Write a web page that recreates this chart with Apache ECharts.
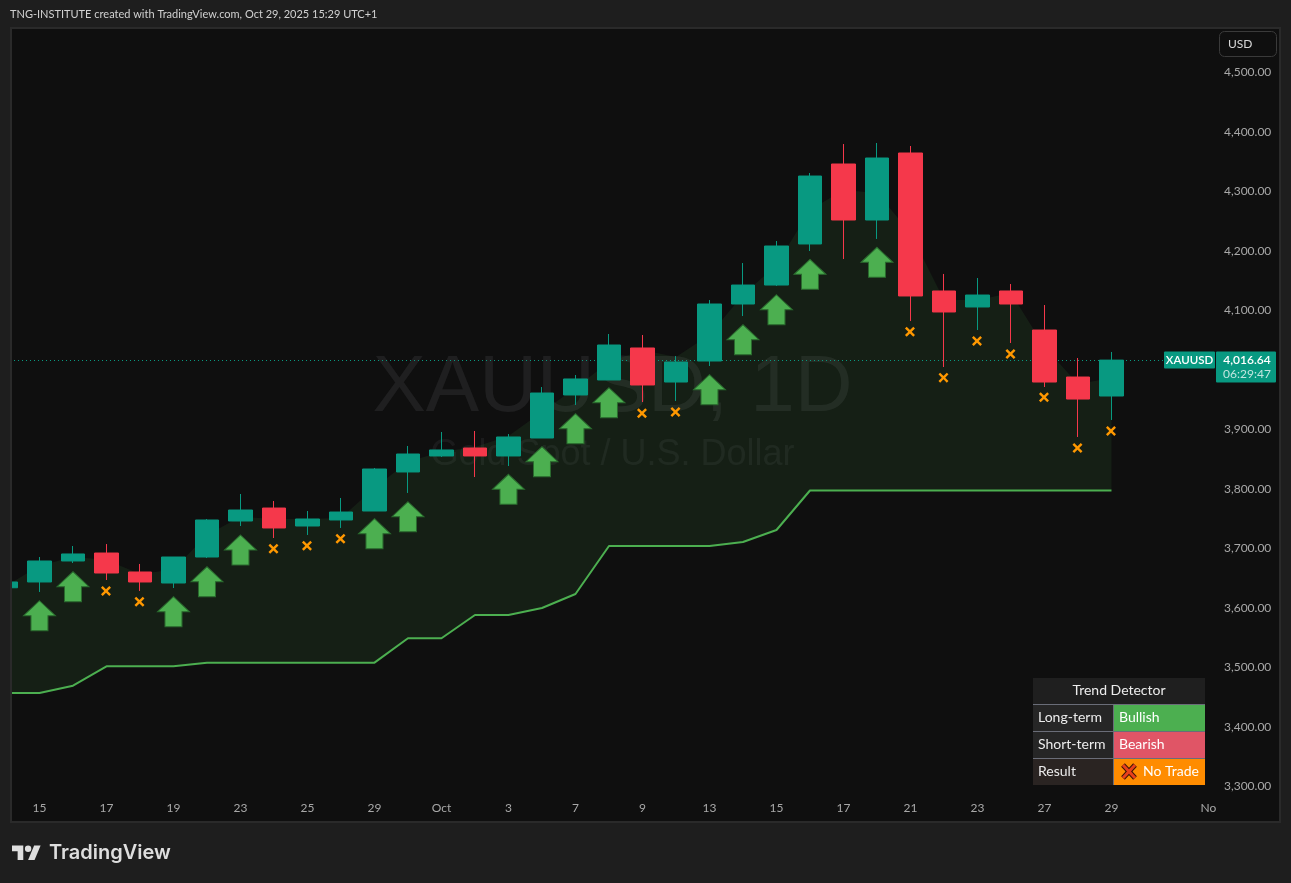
<!DOCTYPE html>
<html>
<head>
<meta charset="utf-8">
<title>XAUUSD 1D</title>
<script src="https://cdn.jsdelivr.net/npm/echarts@6/dist/echarts.min.js"></script>
<style>
html,body{margin:0;padding:0;background:#1e1e1e;}
#contain{width:1291px;height:883px;}
</style>
</head>
<body>
<div id="contain"></div>
<script>
// bars from Sep 12 to Oct 29, index is the x value
const opens  = [3634.0,3643.7,3679.0,3692.4,3660.5,3642.0,3685.7,3746.2,3768.0,3737.8,3747.9,3763.0,3828.6,3855.5,3868.9,3855.5,3885.7,3958.0,3983.2,4037.0,3979.8,4015.1,4110.9,4142.8,4211.8,4346.2,4252.1,4364.7,4132.8,4105.9,4132.8,4067.2,3988.2,3956.3];
const closes = [3643.7,3679.0,3690.8,3658.8,3643.7,3685.7,3747.9,3764.7,3734.5,3749.6,3761.3,3833.6,3858.8,3865.6,3855.5,3887.4,3961.3,3984.9,4042.0,3974.8,4013.4,4110.9,4142.8,4208.4,4326.0,4252.1,4356.3,4124.4,4097.5,4126.0,4110.9,3979.8,3951.2,4016.64];
const lows   = [3630.0,3626.9,3675.6,3647.0,3628.6,3633.6,3684.0,3737.8,3717.6,3722.7,3734.5,3763.0,3793.3,3853.8,3820.1,3838.6,3885.7,3941.2,3983.2,3946.2,3947.9,4006.7,4090.7,4141.2,4200.0,4186.5,4220.2,4082.3,4005.0,4067.2,4045.4,3971.4,3887.4,3916.0];
const highs  = [3650.0,3685.7,3704.2,3707.5,3674.0,3685.7,3749.6,3791.6,3779.8,3763.0,3784.9,3835.3,3872.3,3895.8,3897.5,3892.4,3971.4,3991.6,4060.5,4058.8,4023.5,4117.6,4179.8,4216.8,4331.1,4379.8,4381.5,4376.5,4161.4,4154.6,4144.5,4109.2,4020.2,4030.3];

// lower line of the trend band and its hidden upper edge
const bandLow = [3457.2,3457.2,3469.4,3502.0,3502.0,3502.0,3508.1,3508.1,3508.1,3508.1,3508.1,3508.1,3549.1,3549.1,3588.2,3588.2,3600.0,3623.5,3704.2,3704.2,3704.2,3704.2,3710.9,3731.1,3797.5,3797.5,3797.5,3797.5,3797.5,3797.5,3797.5,3797.5,3797.5,3797.5];
const bandTop = [3641.2,3670.6,3686.2,3680.7,3657.1,3664.7,3722.7,3753.4,3749.6,3749.6,3751.2,3801.7,3845.9,3862.7,3870.6,3889.1,3929.4,3969.7,4013.4,4033.6,4021.8,4058.8,4126.0,4176.5,4268.9,4302.5,4297.5,4230.2,4117.6,4117.6,4129.4,4038.7,3976.5,3986.6];

const arrowIdx  = [1,2,5,6,7,11,12,15,16,17,18,21,22,23,24,26];
const arrowVals = [3587.0,3635.8,3593.8,3644.2,3697.5,3724.9,3753.4,3799.5,3845.9,3901.4,3945.0,3966.9,4050.9,4101.3,4160.8,4181.0];
const crossIdx  = [3,4,8,9,10,19,20,27,28,29,30,31,32,33];
const crossVals = [3628.6,3610.5,3699.6,3704.7,3716.5,3927.2,3929.4,4064.4,3987.1,4048.7,4026.9,3954.1,3868.9,3897.5];

const tickIdx    = [1,3,5,7,9,11,13,15,17,19,21,23,25,27,29,31,33,35.89];
const tickLabels = ['15','17','19','23','25','29','Oct','3','7','9','13','15','17','21','23','27','29','No'];
const priceTicks = [3300,3400,3500,3600,3700,3800,3900,4000,4100,4200,4300,4400,4500];
const lastPrice = 4016.64;

const FONT = 'Lato, "Noto Sans", sans-serif';
const GREEN = '#089981', RED = '#f5384b';

let candleData = opens.map((o,i) => [i, o, closes[i], lows[i], highs[i]]);
let lowData = bandLow.map((v,i) => [i, v]);
let bandData = bandLow.map((v,i) => [i, v, bandTop[i]]);
let arrowData = arrowIdx.map((x,i) => [x, arrowVals[i]]);
let crossData = crossIdx.map((x,i) => [x, crossVals[i]]);

function txt(text, x, y, fill, font, align, z) {
    return {type:'text', z:z||20, silent:true, style:{text:text, x:x, y:y, fill:fill, font:font,
        textAlign:align||'left', textVerticalAlign:'middle', align:align||'left', verticalAlign:'middle'}};
}
function box(x, y, w, h, fill, z, r) {
    return {type:'rect', z:z||19, silent:true, shape:{x:x,y:y,width:w,height:h,r:r||0}, style:{fill:fill}};
}
function stroke(points, color, width, z) {
    return {type:'polyline', z:z, silent:true, shape:{points:points}, style:{stroke:color, lineWidth:width, fill:null}};
}

// one polygon for the whole band, drawn once from the first row
function renderBand(params, api) {
    if (params.dataIndex !== 0) return null;
    let upper = bandData.map(r => api.coord([r[0], r[2]]));
    let lower = bandData.map(r => api.coord([r[0], r[1]])).reverse();
    let points = echarts.graphic.clipPointsByRect(upper.concat(lower), params.coordSys);
    return {type:'polygon', silent:true, shape:{points:points}, style:{fill:'rgba(76,175,80,0.1)'}};
}

let chart = echarts.init(document.getElementById('contain'));
let graphics = [
    {type:'rect', z:-10, silent:true, shape:{x:11,y:28,width:1269,height:794}, style:{fill:'#0f0f0f', stroke:'#2a2a2a', lineWidth:2}},
    // the first bar starts left of the pane, hide what sticks out
    box(0,27,10,796,'#1e1e1e',10),
    box(10,27,2,796,'#2a2a2a',10),
    txt('XAUUSD, 1D', 612.5, 389, 'rgba(178,181,190,0.1)', '80px "Liberation Sans"', 'center', -5),
    txt('Gold Spot / U.S. Dollar', 612.5, 455, 'rgba(178,181,190,0.08)', '36px "Liberation Sans"', 'center', -5),
    txt('TNG-INSTITUTE created with TradingView.com, Oct 29, 2025 15:29 UTC+1', 10, 14, '#d1d1d1', '11px '+FONT),
    // logo
    {type:'polygon', z:20, silent:true, shape:{points:[[23.28,860],[17.64,860],[17.64,851.14],[12,851.14],[12,845.5],[23.28,845.5]]}, style:{fill:'#dedede'}},
    {type:'polygon', z:20, silent:true, shape:{points:[[34.56,860],[28.11,860],[34.15,845.5],[40.6,845.5]]}, style:{fill:'#dedede'}},
    {type:'circle', z:20, silent:true, shape:{cx:28.11,cy:848.72,r:3.2}, style:{fill:'#dedede'}},
    txt('TradingView', 49, 853, '#dedede', '600 20px Inter, '+FONT),
    {type:'rect', z:20, silent:true, shape:{x:1219.5,y:31.5,width:57,height:25,r:5}, style:{fill:'#0f0f0f', stroke:'#3a3a3a', lineWidth:1}},
    txt('USD', 1228, 44.5, '#d8d8d8', '12px '+FONT),

    // trend detector table
    box(1033,678,172,26,'#1f1f1f'),
    box(1033,704,80,27,'#262626'),
    box(1033,731,80,27,'#262626'),
    box(1033,758,80,27,'#2a2422'),
    box(1113,704,92,27,'#4caf50'),
    box(1113,731,92,27,'#e05566'),
    box(1113,758,92,27,'#ff8c00'),
    box(1033,704,172,1,'#6a6d78',21),
    box(1033,731,172,1,'#6a6d78',21),
    box(1033,758,172,1,'#6a6d78',21),
    box(1113,704,1,81,'#6a6d78',21),
    txt('Trend Detector', 1119, 690, '#ececec', '14px '+FONT, 'center', 22),
    txt('Long-term', 1038, 717.5, '#ececec', '14px '+FONT, 'left', 22),
    txt('Short-term', 1038, 744.5, '#ececec', '14px '+FONT, 'left', 22),
    txt('Result', 1038, 771.5, '#ececec', '14px '+FONT, 'left', 22),
    txt('Bullish', 1119, 717.5, '#ffffff', '14px '+FONT, 'left', 22),
    txt('Bearish', 1119, 744.5, '#ffffff', '14px '+FONT, 'left', 22),
    txt('No Trade', 1143, 771.5, '#ffffff', '14px '+FONT, 'left', 22),
    stroke([[1123,765],[1135,778]], '#3b1408', 5, 22),
    stroke([[1135,765],[1123,778]], '#3b1408', 5, 22),
    stroke([[1123,765],[1135,778]], '#e8401c', 3, 23),
    stroke([[1135,765],[1123,778]], '#e8401c', 3, 23)
];

let option = {
    animation:false,
    backgroundColor:'#1e1e1e',
    textStyle:{fontFamily:FONT},
    graphic:{elements:graphics},
    grid:{left:10, top:28, width:1206, height:767},
    xAxis:{
        type:'value', min:0.12, max:36.12, scale:true,
        axisLine:{show:false}, axisTick:{show:false}, splitLine:{show:false},
        axisLabel:{
            customValues:tickIdx, color:'#a8a8a8', fontSize:12, margin:7, fontFamily:FONT,
            formatter:function (v) { return tickLabels[tickIdx.indexOf(v)]; }
        }
    },
    yAxis:{
        type:'value', position:'right', min:3285.7, max:4574.8, scale:true,
        axisLine:{show:false}, axisTick:{show:false}, splitLine:{show:false},
        axisLabel:{
            customValues:priceTicks, color:'#a8a8a8', fontSize:12, margin:8, fontFamily:FONT, padding:[0,0,1,0],
            formatter:function (v) { return v.toLocaleString('en-US',{minimumFractionDigits:2}); }
        }
    },
    series:[
        {name:'band', type:'custom', data:bandData, encode:{x:0, y:[1,2]}, renderItem:renderBand, silent:true, z:2},
        {name:'trend', type:'line', data:lowData, symbol:'none', lineStyle:{color:'#4caf50', width:2}, z:3},
        {name:'XAUUSD', type:'candlestick', data:candleData, encode:{x:0, y:[1,2,3,4]}, barWidth:24, z:5,
            itemStyle:{color:GREEN, color0:RED, borderColor:GREEN, borderColor0:RED, borderWidth:1},
            markLine:{silent:true, symbol:'none', label:{show:false},
                lineStyle:{color:GREEN, type:[1,3], width:1},
                data:[{yAxis:lastPrice}]}
        },
        {name:'buy', type:'scatter', data:arrowData, z:6, symbolSize:[32,30],
            symbol:'path://M16 0L32 15H24.5V30H7.5V15H0Z',
            itemStyle:{color:'#4caf50', borderColor:'#2a6a2e', borderWidth:1, opacity:1}},
        {name:'noTrade', type:'scatter', data:crossData, z:6, symbolSize:10, symbolOffset:[-0.5,0],
            symbol:'path://M1.7 0L5 3.3L8.3 0L10 1.7L6.7 5L10 8.3L8.3 10L5 6.7L1.7 10L0 8.3L3.3 5L0 1.7Z',
            itemStyle:{color:'#ff9800', opacity:1}}
    ]
};
chart.setOption(option);

// last price tags follow the price scale
let tagY = chart.convertToPixel({yAxisIndex:0}, lastPrice);
graphics.push(
    box(1164,tagY-8.5,51,17,GREEN,24,1),
    txt('XAUUSD', 1189.5, tagY, '#ffffff', '600 11.5px '+FONT, 'center', 25),
    box(1216,tagY-8.5,60,31,GREEN,24,1),
    txt('4,016.64', 1247, tagY, '#ffffff', '600 12px '+FONT, 'center', 25),
    txt('06:29:47', 1247, tagY+14, 'rgba(255,255,255,0.75)', '12px '+FONT, 'center', 25)
);
chart.setOption({graphic:{elements:graphics}});
</script>
</body>
</html>
